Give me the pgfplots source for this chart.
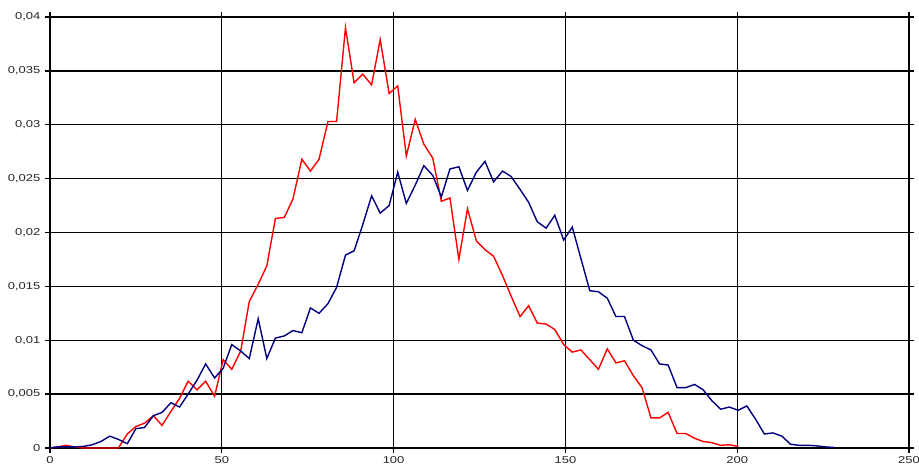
\documentclass[border=0pt]{standalone}
\usepackage{pgfplots}
\pgfplotsset{compat=1.18}
\usepackage{pgfplotstable}
\usepackage{fontspec}
\setmainfont{Liberation Sans}
\definecolor{navyline}{RGB}{0,0,128}
\definecolor{redline}{RGB}{255,0,0}

\pgfplotstableread{
x y
0 0
2.1 0.0001
4.7 0.00025
7.2 0.0001
9.8 0
12.3 0
14.8 0
17.4 0
19.9 0
22.5 0.0013
25.0 0.0020
27.5 0.0023
30.1 0.0030
32.6 0.0021
35.2 0.0034
37.7 0.0046
40.2 0.0062
42.8 0.0054
45.3 0.0062
47.9 0.0048
50.4 0.0082
52.9 0.0073
55.5 0.0090
58.0 0.0136
60.6 0.0152
63.1 0.0169
65.6 0.0213
68.2 0.0214
70.7 0.0231
73.3 0.0268
75.8 0.0257
78.3 0.0268
80.9 0.0303
83.4 0.0303
86.0 0.0390
88.5 0.0339
91.0 0.0347
93.6 0.0337
96.1 0.0379
98.7 0.0329
101.2 0.0336
103.7 0.0271
106.3 0.0305
108.8 0.0282
111.4 0.0269
113.9 0.0229
116.4 0.0232
119.0 0.0175
121.5 0.0222
124.1 0.0192
126.6 0.0184
129.1 0.0178
131.7 0.0160
134.2 0.0141
136.8 0.0122
139.3 0.0132
141.8 0.0116
144.4 0.0115
146.9 0.0110
149.5 0.0096
152.0 0.0089
154.5 0.0091
157.1 0.0082
159.6 0.0073
162.2 0.0092
164.7 0.0079
167.2 0.0081
169.8 0.0067
172.3 0.0056
174.9 0.0028
177.4 0.0028
179.9 0.0033
182.5 0.00135
185.0 0.00135
187.6 0.0009
190.1 0.0006
192.6 0.0005
195.2 0.00025
197.7 0.0003
200.3 0.00015
}\redtable

\pgfplotstableread{
x y
0 0
2.1 0.0001
4.7 0.0001
7.2 0.0001
9.8 0.00015
12.3 0.0003
14.8 0.0006
17.4 0.0011
19.9 0.0008
22.5 0.0004
25.0 0.0018
27.5 0.0019
30.1 0.0030
32.6 0.0033
35.2 0.0042
37.7 0.0038
40.2 0.0050
42.8 0.0063
45.3 0.0078
47.9 0.0065
50.4 0.0074
52.9 0.0096
55.5 0.0090
58.0 0.0083
60.6 0.0120
63.1 0.0083
65.6 0.0102
68.2 0.0104
70.7 0.0109
73.3 0.0107
75.8 0.0130
78.3 0.0125
80.9 0.0134
83.4 0.0149
86.0 0.0179
88.5 0.0183
91.0 0.0207
93.6 0.0234
96.1 0.0218
98.7 0.0225
101.2 0.0256
103.7 0.0227
106.3 0.0244
108.8 0.0262
111.4 0.0253
113.9 0.0233
116.4 0.0259
119.0 0.0261
121.5 0.0239
124.1 0.0256
126.6 0.0266
129.1 0.0247
131.7 0.0257
134.2 0.0252
136.8 0.0240
139.3 0.0228
141.8 0.0210
144.4 0.0204
146.9 0.0216
149.5 0.0193
152.0 0.0205
154.5 0.0176
157.1 0.0146
159.6 0.0145
162.2 0.0139
164.7 0.0122
167.2 0.0122
169.8 0.0100
172.3 0.0095
174.9 0.0091
177.4 0.0078
179.9 0.0077
182.5 0.0056
185.0 0.0056
187.6 0.0059
190.1 0.0054
192.6 0.0044
195.2 0.0036
197.7 0.0038
200.3 0.0035
202.8 0.0039
205.3 0.0027
207.9 0.0013
210.4 0.0014
213.0 0.0011
215.5 0.00035
218.0 0.00025
220.6 0.00025
223.1 0.0002
225.7 0.0001
228.2 0.00005
}\bluetable

\begin{document}
\begin{tikzpicture}
\begin{axis}[
  scale only axis,
  width=859pt, height=431pt,
  xmin=0, xmax=250, ymin=0, ymax=0.04,
  xtick={0,50,100,150,200,250},
  ytick={0,0.005,0.01,0.015,0.02,0.025,0.03,0.035,0.04},
  scaled y ticks=false,
  grid=major,
  major grid style={black, line width=1.3pt},
  axis line style={black, line width=1.3pt},
  tick align=outside,
  major tick length=5pt,
  tick style={black, line width=1.3pt},
  /pgf/number format/assume math mode=true,
  yticklabel style={/pgf/number format/.cd, use comma, fixed, precision=3},
  xticklabel style={/pgf/number format/.cd, fixed},
  tick label style={font=\fontsize{10}{12}\selectfont, text=black!85, xscale=1.3},
]
\addplot[redline, line width=1.4pt, mark=none] table[x=x, y=y] {\redtable};
\addplot[navyline, line width=1.4pt, mark=none] table[x=x, y=y] {\bluetable};
\end{axis}
\pgfresetboundingbox
\path[use as bounding box] (-50pt,-24pt) rectangle (869pt,448pt);
\end{tikzpicture}
\end{document}
